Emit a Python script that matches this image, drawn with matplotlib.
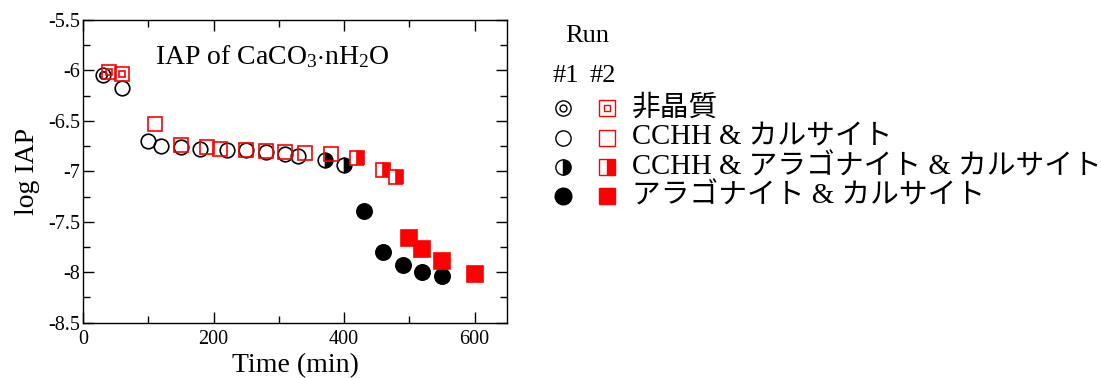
import matplotlib
matplotlib.use("Agg")
import matplotlib.pyplot as plt
from matplotlib.ticker import MultipleLocator

plt.rcParams["font.family"] = ["Liberation Serif", "Noto Sans CJK JP"]
plt.rcParams["mathtext.fontset"] = "custom"
plt.rcParams["mathtext.rm"] = "Liberation Serif"
plt.rcParams["mathtext.it"] = "Liberation Serif:italic"

# Run #1 (circles)
run1_amorph_t = [30]
run1_amorph_v = [-6.05]
run1_cchh_t = [60, 100, 120, 150, 180, 220, 250, 280, 310, 330]
run1_cchh_v = [-6.17, -6.70, -6.75, -6.76, -6.78, -6.79, -6.79, -6.81, -6.83, -6.845]
run1_mix_t = [370, 400]
run1_mix_v = [-6.89, -6.94]
run1_arag_t = [430, 460, 490, 520, 550]
run1_arag_v = [-7.39, -7.80, -7.93, -8.00, -8.04]

# Run #2 (squares)
run2_amorph_t = [40, 60]
run2_amorph_v = [-6.02, -6.04]
run2_cchh_t = [110, 150, 190, 210, 250, 280, 310, 340, 380]
run2_cchh_v = [-6.53, -6.74, -6.76, -6.78, -6.79, -6.80, -6.81, -6.82, -6.83]
run2_mix_t = [420, 460, 480]
run2_mix_v = [-6.87, -6.99, -7.06]
run2_arag_t = [500, 520, 550, 600]
run2_arag_v = [-7.66, -7.77, -7.89, -8.02]

legend_labels = ["非晶質", "CCHH & カルサイト", "CCHH & アラゴナイト & カルサイト",
                 "アラゴナイト & カルサイト"]

RED = "#ff0000"
W, H = 1101, 378
fig = plt.figure(figsize=(W / 100, H / 100), dpi=100)
ax = fig.add_axes([83 / W, 1 - 322.7 / H, (507.3 - 83) / W, (322.7 - 20) / H])

ms_c = 10.5
ms_s = 10.5
mew = 1.2

# circles, run #1
ax.plot(run1_amorph_t, run1_amorph_v, "o", ms=ms_c, mfc="white", mec="black", mew=mew, zorder=3)
ax.plot(run1_amorph_t, run1_amorph_v, "o", ms=ms_c * 0.5, mfc="none", mec="black", mew=mew, zorder=3)
ax.plot(run1_cchh_t, run1_cchh_v, "o", ms=ms_c, mfc="none", mec="black", mew=mew, zorder=3)
ax.plot(run1_mix_t, run1_mix_v, "o", ms=ms_c, fillstyle="right", mfc="black",
        mfcalt="white", mec="black", mew=mew, zorder=3)
ax.plot(run1_arag_t, run1_arag_v, "o", ms=ms_c + 0.5, mfc="black", mec="black", mew=mew, zorder=3)

# squares, run #2
ax.plot(run2_amorph_t, run2_amorph_v, "s", ms=ms_s, mfc="none", mec=RED, mew=mew, zorder=4)
ax.plot(run2_amorph_t, run2_amorph_v, "s", ms=ms_s * 0.45, mfc="none", mec=RED, mew=mew, zorder=4)
ax.plot(run2_cchh_t, run2_cchh_v, "s", ms=ms_s, mfc="none", mec=RED, mew=mew, zorder=4)
ax.plot(run2_mix_t, run2_mix_v, "s", ms=ms_s, fillstyle="right", mfc=RED,
        mfcalt="white", mec=RED, mew=mew, zorder=4)
ax.plot(run2_arag_t, run2_arag_v, "s", ms=ms_s + 0.5, mfc=RED, mec=RED, mew=mew, zorder=4)

ax.set_xlim(0, 650)
ax.set_ylim(-8.5, -5.5)
ax.xaxis.set_major_locator(MultipleLocator(200))
ax.xaxis.set_minor_locator(MultipleLocator(100))
ax.yaxis.set_major_locator(MultipleLocator(0.5))
ax.yaxis.set_minor_locator(MultipleLocator(0.25))
ax.yaxis.set_major_formatter(plt.FuncFormatter(lambda v, p: f"{v:g}"))
ax.tick_params(which="both", direction="in", top=True, right=True, width=1.0,
               labelsize=14.5)
ax.tick_params(axis="y", pad=2)
ax.tick_params(axis="x", pad=5)
ax.tick_params(which="major", length=8)
ax.tick_params(which="minor", length=5)
for s in ax.spines.values():
    s.set_linewidth(1.0)

ax.set_xlabel("Time (min)", fontsize=20, labelpad=3)
ax.set_ylabel("log IAP", fontsize=20, labelpad=6)
ax.text(0.17, 0.88, r"IAP of CaCO$_3$$\cdot$nH$_2$O", transform=ax.transAxes,
        fontsize=20, ha="left", va="center")

# legend block drawn in figure pixel space
lax = fig.add_axes([0, 0, 1, 1])
lax.set_xlim(0, W)
lax.set_ylim(H, 0)
lax.axis("off")
lax.text(587, 36, "Run", fontsize=19, ha="center", va="center")
lax.text(566, 76, "#1", fontsize=19, ha="center", va="center")
lax.text(603, 76, "#2", fontsize=19, ha="center", va="center")

rows_y = [108, 138, 167, 196]
cx, sx = 563, 607
lms = 11
# amorphous
lax.plot([cx], [rows_y[0]], "o", ms=lms, mfc="none", mec="black", mew=1.0)
lax.plot([cx], [rows_y[0]], "o", ms=lms * 0.45, mfc="none", mec="black", mew=1.0)
lax.plot([sx], [rows_y[0]], "s", ms=lms, mfc="none", mec=RED, mew=1.0)
lax.plot([sx], [rows_y[0]], "s", ms=lms * 0.45, mfc="none", mec=RED, mew=1.0)
# CCHH & calcite
lax.plot([cx], [rows_y[1]], "o", ms=lms, mfc="none", mec="black", mew=1.0)
lax.plot([sx], [rows_y[1]], "s", ms=lms, mfc="none", mec=RED, mew=1.0)
# mixed
lax.plot([cx], [rows_y[2]], "o", ms=lms, fillstyle="right", mfc="black", mfcalt="white",
         mec="black", mew=1.0)
lax.plot([sx], [rows_y[2]], "s", ms=lms, fillstyle="right", mfc=RED, mfcalt="white",
         mec=RED, mew=1.0)
# aragonite & calcite
lax.plot([cx], [rows_y[3]], "o", ms=lms + 1, mfc="black", mec="black", mew=1.0)
lax.plot([sx], [rows_y[3]], "s", ms=lms + 1, mfc=RED, mec=RED, mew=1.0)

for y, lab in zip(rows_y, legend_labels):
    lax.text(632, y, lab, fontsize=20.7, ha="left", va="center")

fig.savefig("out.png", dpi=100)
